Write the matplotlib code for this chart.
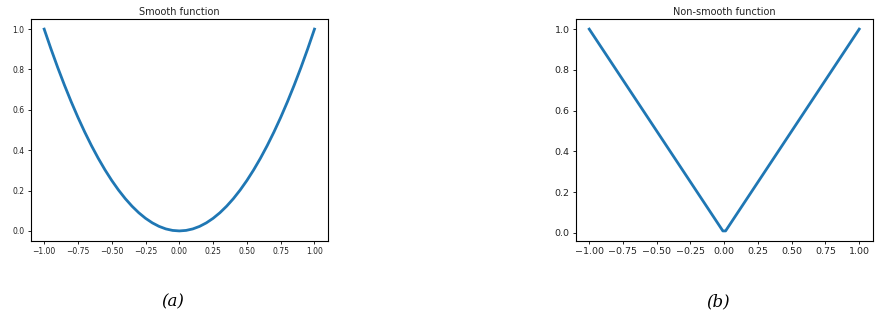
import matplotlib
matplotlib.use("Agg")
import matplotlib.pyplot as plt

# Smooth function samples
x_smooth = [-1.00, -0.95, -0.90, -0.85, -0.80, -0.75, -0.70, -0.65, -0.60, -0.55,
            -0.50, -0.45, -0.40, -0.35, -0.30, -0.25, -0.20, -0.15, -0.10, -0.05,
            0.00, 0.05, 0.10, 0.15, 0.20, 0.25, 0.30, 0.35, 0.40, 0.45,
            0.50, 0.55, 0.60, 0.65, 0.70, 0.75, 0.80, 0.85, 0.90, 0.95, 1.00]
y_smooth = [1.000, 0.9025, 0.810, 0.7225, 0.640, 0.5625, 0.490, 0.4225, 0.360, 0.3025,
            0.250, 0.2025, 0.160, 0.1225, 0.090, 0.0625, 0.040, 0.0225, 0.010, 0.0025,
            0.000, 0.0025, 0.010, 0.0225, 0.040, 0.0625, 0.090, 0.1225, 0.160, 0.2025,
            0.250, 0.3025, 0.360, 0.4225, 0.490, 0.5625, 0.640, 0.7225, 0.810, 0.9025, 1.000]

# Non-smooth function samples
x_nonsmooth = [-1.00, -0.0101, 0.0101, 1.00]
y_nonsmooth = [1.00, 0.0101, 0.0101, 1.00]

titles = ["Smooth function", "Non-smooth function"]
captions = ["(a)", "(b)"]
xticks = [-1.00, -0.75, -0.50, -0.25, 0.00, 0.25, 0.50, 0.75, 1.00]
yticks = [0.0, 0.2, 0.4, 0.6, 0.8, 1.0]

fig = plt.figure(figsize=(8.81, 3.16), dpi=100)
ax1 = fig.add_axes([0.0348, 0.2373, 0.3375, 0.7025])
ax2 = fig.add_axes([0.6535, 0.2373, 0.3371, 0.7025])

color = "#1f77b4"
ax1.plot(x_smooth, y_smooth, color=color, lw=2.0)
ax2.plot(x_nonsmooth, y_nonsmooth, color=color, lw=2.0)

for ax, title, ts in [(ax1, titles[0], 5.5), (ax2, titles[1], 6.8)]:
    ax.set_title(title, fontsize=7, pad=3, color="#222222")
    ax.set_xticks(xticks)
    ax.set_yticks(yticks)
    ax.set_xticklabels([f"{v:.2f}".replace("-", "\u2212") for v in xticks])
    ax.set_yticklabels([f"{v:.1f}" for v in yticks])
    ax.tick_params(labelsize=ts, length=2.5, width=0.6, pad=2, labelcolor="#222222")
    for s in ax.spines.values():
        s.set_linewidth(0.8)

fig.text(173 / 881, 1 - 302 / 316, captions[0], family="DejaVu Serif", style="italic",
         fontsize=12, ha="center", va="center")
fig.text(718 / 881, 1 - 302 / 316, captions[1], family="DejaVu Serif", style="italic",
         fontsize=12, ha="center", va="center")

fig.savefig("out.png", dpi=100)
